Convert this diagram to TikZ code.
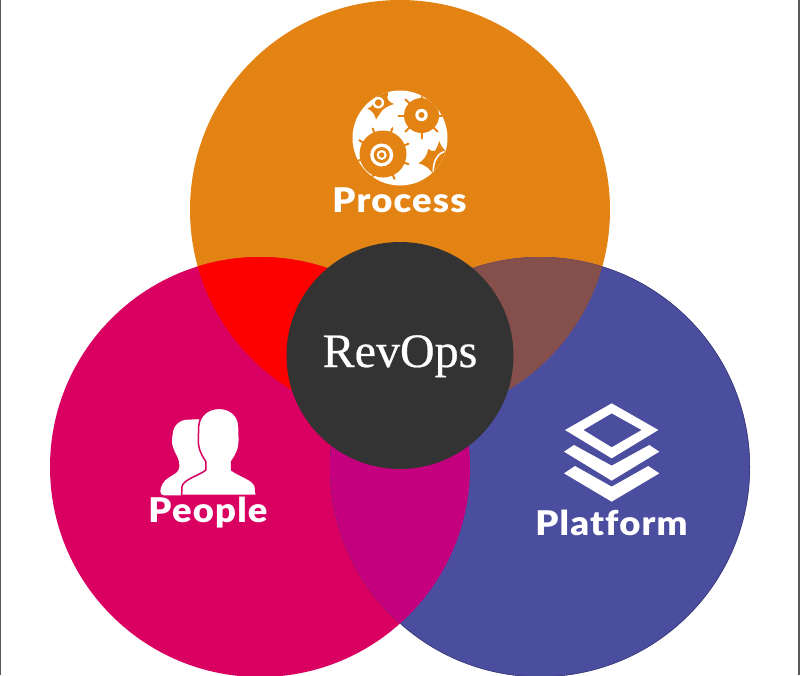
\documentclass[tikz,border=0pt]{standalone}
\usepackage{fontspec}
\setmainfont{Liberation Serif}
\newfontfamily\labelfont[LetterSpace=3.5,FakeStretch=1.07,BoldFont={Lato Black},BoldFeatures={LetterSpace=3.5,FakeStretch=1.07,Ligatures=NoCommon},Ligatures=NoCommon]{Lato}
\newfontfamily\revfont[FakeBold=0.5]{Liberation Serif}
\definecolor{cOrange}{HTML}{E38314}
\definecolor{cPink}{HTML}{D90062}
\definecolor{cBlue}{HTML}{4B4D9E}
\definecolor{cRed}{HTML}{FD0000}
\definecolor{cBrown}{HTML}{85504B}
\definecolor{cMag}{HTML}{C5007F}
\definecolor{cDark}{HTML}{333333}
\tikzset{
  cap label/.style={text=white,font=\labelfont\bfseries\fontsize{34}{34}\selectfont,anchor=base,inner sep=0pt},
}
\newcommand{\gearteeth}[5]{% cx cy r0 r1 list
  \foreach \a in {#5} {\draw[cOrange,line width=2pt,line cap=round] (#1,#2) ++(\a:#3) -- ++(\a:#4);}
}
\begin{document}
\begin{tikzpicture}[x=1pt,y=-1pt]
\useasboundingbox (0,0) rectangle (800,675);
\fill[white] (0,0) rectangle (800,675);
\draw[gray!70!black,line width=1.2pt] (0.3,0) -- (0.3,675);
\draw[gray!70!black,line width=1.2pt] (799,0) -- (799,675);
\begin{scope}
\clip (0,0) rectangle (800,675);
\fill[cOrange] (400,210) circle (210);
\fill[cPink] (260,467) circle (210);
\fill[cBlue] (540,467) circle (210);
\draw[cBlue!70!black,line width=.5pt] (540,467) circle (209.7);
\begin{scope}
 \clip (400,210) circle (210);
 \fill[cRed] (260,467) circle (210);
 \fill[cBrown] (540,467) circle (210);
\end{scope}
\begin{scope}
 \clip (260,467) circle (210);
 \fill[cMag] (540,467) circle (210);
\end{scope}
\end{scope}
\fill[cDark] (400,355.5) circle (113.5);
\node[text=white,font=\revfont\fontsize{48}{48}\selectfont,anchor=base,inner sep=0pt] (revops) at (400,367) {RevOps};
% gears icon
\begin{scope}
\fill[white] (400,138) circle (47.5);
\clip (400,138) circle (47.5);
% large gear
\fill[cOrange] (383,154) circle (23.5);
\gearteeth{383}{154}{22}{5.5}{-150,-112,-70,-22,22,65,115,165}
\fill[white] (381.7,155) circle (11.5);
\fill[cOrange] (381.7,155) circle (8);
\fill[white] (381.7,155) circle (5);
\fill[cOrange] (381.7,155) circle (2.7);
% upper right gear
\fill[cOrange] (421.5,115.5) circle (17.5);
\gearteeth{421.5}{115.5}{16}{7}{180,-135,135,90,45,-45,0,-90}
\fill[white] (421.5,115) circle (6.2);
\fill[cOrange] (421.5,115) circle (3);
% upper-left fragment
\fill[cOrange] (367.3,108.3) .. controls (370,107.5) and (372,107) .. (373,104) -- (380,90) -- (388,90) -- (388,94.5) .. controls (386,98) and (388,102) .. (394,104) .. controls (387,106) and (383,109) .. (381,112) -- (376,119.5) .. controls (375,114) and (372,111) .. (367.3,108.3) -- cycle;
\fill[white] (378.3,102.7) circle (5.8);
\fill[cOrange] (378.3,102.7) circle (3.4);
% lower-right fragment
\fill[cOrange] (418.3,163.3) .. controls (423,161) and (427,156) .. (428.3,149) .. controls (431,151) and (433,151.5) .. (435,151) .. controls (437,148) and (438,145) .. (439.3,141) .. controls (441,146) and (443,149) .. (447,152) -- (450,180) -- (434,177) .. controls (432,170) and (426,165) .. (418.3,163.3) -- cycle;
\draw[white,line width=1.6pt] (444.5,151.5) .. controls (436,154) and (431.5,165) .. (434,177);
\end{scope}
\node[cap label] (process) at (399.5,212) {Process};
% people icon
\begin{scope}[shift={(130,390)},x=0.3333pt,y=-0.3333pt]
\fill[white,rounded corners=4pt] (90,316) -- (92,290) -- (105,270) -- (148,243) -- (148,212) -- (128,172) -- (125,150) -- (132,110) -- (155,90) -- (215,87) -- (260,200) -- (240,316) -- cycle;
\fill[white,draw=cPink,line width=1.5pt] (155,316) -- (156,290) .. controls (160,268) and (205,258) .. (228,240) -- (228,215) .. controls (215,195) and (205,180) .. (205,150) -- (206,110) .. controls (208,75) and (235,55) .. (267,55) .. controls (300,55) and (326,75) .. (327,110) -- (328,150) .. controls (328,180) and (318,195) .. (305,215) -- (305,240) .. controls (328,258) and (372,268) .. (376,290) -- (379,316) -- cycle;
\end{scope}
\node[cap label] (people) at (208,522) {People};
% platform icon
\begin{scope}[shift={(520,390)},x=0.3333pt,y=-0.3333pt]
\fill[white,even odd rule] (275,40) -- (415,120) -- (275,205) -- (135,120) -- cycle (275,70) -- (365,120) -- (275,172) -- (190,120) -- cycle;
\fill[white] (132,185) -- (162,165) -- (275,227) -- (388,165) -- (418,185) -- (275,272) -- cycle;
\fill[white] (132,250) -- (165,228) -- (275,290) -- (385,228) -- (418,250) -- (275,335) -- cycle;
\end{scope}
\node[cap label] (platform) at (611.5,535) {Platform};
\end{tikzpicture}
\end{document}
